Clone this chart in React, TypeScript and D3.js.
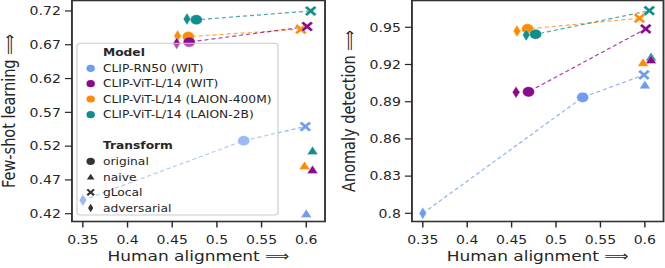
import * as d3 from "d3";

// values
const models = [
  "CLIP-RN50 (WIT)",
  "CLIP-ViT-L/14 (WIT)",
  "CLIP-ViT-L/14 (LAION-400M)",
  "CLIP-ViT-L/14 (LAION-2B)",
];
const modelColors = ["#6e9cf0", "#8b0a8b", "#ff8c00", "#0f8f8c"];
const transforms = ["original", "naive", "gLocal", "adversarial"];

// human alignment per model, in transform order [original, naive, gLocal, adversarial]
const alignRN50 = [0.53, 0.6, 0.599, 0.35];
const alignWIT = [0.469, 0.607, 0.601, 0.455];
const alignL400 = [0.468, 0.598, 0.594, 0.456];
const alignL2B = [0.477, 0.607, 0.605, 0.4665];

const fewShotRN50 = [0.528, 0.42, 0.549, 0.44];
const fewShotWIT = [0.674, 0.485, 0.697, 0.672];
const fewShotL400 = [0.682, 0.491, 0.693, 0.683];
const fewShotL2B = [0.707, 0.513, 0.72, 0.708];

const anomalyRN50 = [0.8935, 0.9035, 0.9116, 0.8];
const anomalyWIT = [0.898, 0.9237, 0.9487, 0.8976];
const anomalyL400 = [0.9487, 0.9215, 0.9573, 0.947];
const anomalyL2B = [0.9444, 0.926, 0.9634, 0.9438];

const xTicks = [0.35, 0.4, 0.45, 0.5, 0.55, 0.6];
const fewShotTicks = [0.42, 0.47, 0.52, 0.57, 0.62, 0.67, 0.72];
const anomalyTicks = [0.8, 0.83, 0.86, 0.89, 0.92, 0.95];

const alignments = [alignRN50, alignWIT, alignL400, alignL2B];
const fewShot = [fewShotRN50, fewShotWIT, fewShotL400, fewShotL2B];
const anomaly = [anomalyRN50, anomalyWIT, anomalyL400, anomalyL2B];

const STRETCH = 1.17;
const W = 665 / STRETCH;
const H = 268;
const FONT = "DejaVu Sans";
const INK = "#262626";
const drawOrder = [0, 2, 3, 1];

function markerPath(kind: string, s: number) {
  if (kind === "naive") {
    const h = s * 0.9;
    return `M0,${-h}L${h},${h * 0.8}L${-h},${h * 0.8}Z`;
  }
  if (kind === "gLocal") {
    const a = s,
      d = s * 0.38;
    return `M0,${-d}L${a - d},${-a}L${a},${-a + d}L${d},0L${a},${a - d}L${a - d},${a}L0,${d}L${-a + d},${a}L${-a},${a - d}L${-d},0L${-a},${-a + d}L${-a + d},${-a}Z`;
  }
  if (kind === "adversarial") {
    const hh = s * 1.17,
      hw = s * 0.62;
    return `M0,${-hh}L${hw},0L0,${hh}L${-hw},0Z`;
  }
  return d3.arc()({ innerRadius: 0, outerRadius: s, startAngle: 0, endAngle: Math.PI * 2 }) as string;
}

function Panel({ left, right, yDomain, yTicks, yFmt, scores, yLabel, yLabelX, legend }: any) {
  const top = 0.5,
    bottom = 221.5;
  const x = d3.scaleLinear().domain([0.3378, 0.621]).range([left, right]);
  const y = d3.scaleLinear().domain(yDomain).range([bottom, top]);

  return (
    <g fontFamily={FONT} fill={INK}>
      {/* dashed connectors: adversarial -> original -> gLocal */}
      {drawOrder.map((m) => {
        const idx = [3, 0, 2];
        const d = d3.line()(idx.map((t) => [x(alignments[m][t]), y(scores[m][t])]) as any);
        return (
          <path
            key={"l" + m}
            d={d as string}
            fill="none"
            stroke={modelColors[m]}
            strokeOpacity={0.75}
            strokeWidth={1.2}
            strokeDasharray="3.5,2.5"
          />
        );
      })}
      {drawOrder.map((m) =>
        [3, 0, 2, 1].map((t) => (
          <path
            key={"p" + m + t}
            transform={`translate(${x(alignments[m][t])},${y(scores[m][t])})`}
            d={markerPath(transforms[t], 5.1)}
            fill={modelColors[m]}
            stroke="#fff"
            strokeWidth={0.3}
          />
        ))
      )}
      {legend}
      <rect x={left} y={top} width={right - left} height={bottom - top} fill="none" stroke="#333" strokeWidth={1.6} />
      {xTicks.map((v) => (
        <g key={"xt" + v} transform={`translate(${x(v)},${bottom})`}>
          <line y2={6} stroke={INK} strokeWidth={1.2} />
          <text y={22.8} textAnchor="middle" fontSize={12}>
            {String(v)}
          </text>
        </g>
      ))}
      {yTicks.map((v: number) => (
        <g key={"yt" + v} transform={`translate(${left},${y(v)})`}>
          <line x2={-6} stroke={INK} strokeWidth={1.2} />
          <text x={-9.5} y={4.3} textAnchor="end" fontSize={12}>
            {yFmt(v)}
          </text>
        </g>
      ))}
      <text x={(left + right) / 2} y={261.5} textAnchor="middle" fontSize={14.5}>
        Human alignment ⟹
      </text>
      <text
        transform={`translate(${yLabelX},${(top + bottom) / 2}) rotate(-90)`}
        textAnchor="middle"
        dominantBaseline="central"
        fontSize={14.5}
      >
        {yLabel}
      </text>
    </g>
  );
}

function Legend() {
  const lx = 65.8,
    ly = 43.3,
    lw = 171.8,
    lh = 171.7;
  const mx = 77.5,
    tx = 88;
  const modelRows = [68.3, 83.7, 99, 114.7];
  const transformRows = [161.3, 177, 192.3, 208];
  return (
    <g fontFamily={FONT} fontSize={10.5} fill={INK}>
      <rect x={lx} y={ly} width={lw} height={lh} rx={3} fill="#fff" fillOpacity={0.3} stroke="#cccccc" strokeWidth={1} />
      <text x={tx} y={52.3} dominantBaseline="central" fontWeight="bold">
        Model
      </text>
      {models.map((m, i) => (
        <g key={m}>
          <path transform={`translate(${mx},${modelRows[i]})`} d={markerPath("original", 3.6)} fill={modelColors[i]} />
          <text x={tx} y={modelRows[i]} dominantBaseline="central">
            {m}
          </text>
        </g>
      ))}
      <text x={tx} y={145.7} dominantBaseline="central" fontWeight="bold">
        Transform
      </text>
      {transforms.map((t, i) => (
        <g key={t}>
          <path transform={`translate(${mx},${transformRows[i]})`} d={markerPath(t, 3.6)} fill="#333" />
          <text x={tx} y={transformRows[i]} dominantBaseline="central">
            {t}
          </text>
        </g>
      ))}
    </g>
  );
}

export default function App() {
  return (
    <svg
      width={665}
      height={H}
      viewBox={`0 0 ${W} ${H}`}
      preserveAspectRatio="none"
      style={{ position: "absolute", left: 0, top: 0, background: "#fff" }}
    >
      <Panel
        left={61.5}
        right={277.8}
        yDomain={[0.4085, 0.7355]}
        yTicks={fewShotTicks}
        yFmt={(v: number) => v.toFixed(2)}
        scores={fewShot}
        yLabel="Few-shot learning ⟹"
        yLabelX={7.9}
        legend={<Legend />}
      />
      <Panel
        left={352.1}
        right={567.1}
        yDomain={[0.7934, 0.9716]}
        yTicks={anomalyTicks}
        yFmt={(v: number) => String(v)}
        scores={anomaly}
        yLabel="Anomaly detection ⟹"
        yLabelX={298.5}
        legend={null}
      />
    </svg>
  );
}
